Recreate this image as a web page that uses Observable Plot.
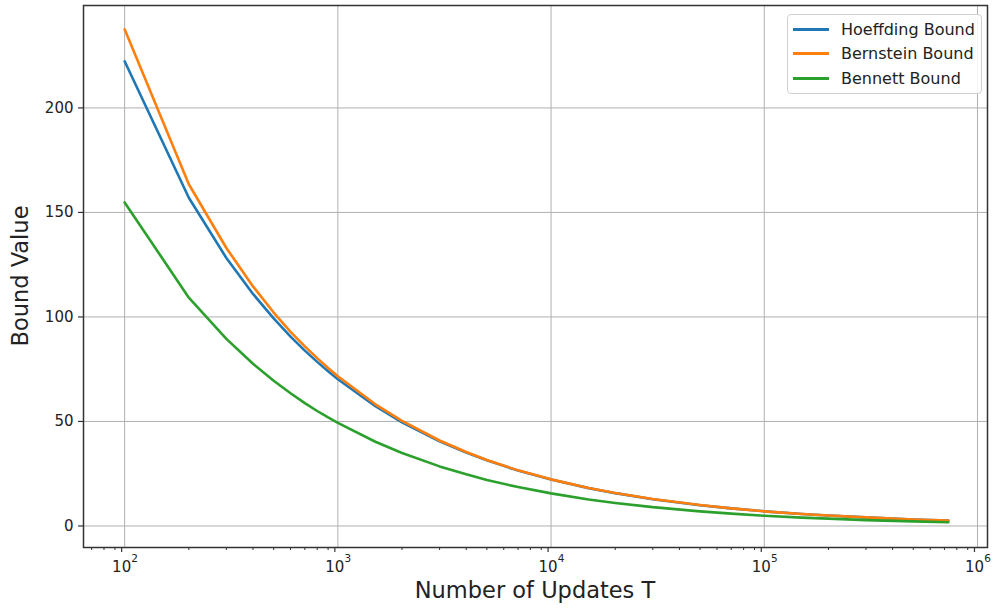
<!DOCTYPE html>
<html>
<head>
<meta charset="utf-8">
<script src="https://cdn.jsdelivr.net/npm/d3@7"></script>
<script src="https://cdn.jsdelivr.net/npm/@observablehq/plot@0.6"></script>
<style>
  html, body { margin: 0; padding: 0; background: #fff; }
  #wrap { position: relative; width: 993px; height: 608px; font-family: "DejaVu Sans", sans-serif; }
  #legend { position: absolute; left: 787px; top: 14px; width: 195px; height: 80px; box-sizing: border-box;
    border: 1px solid #d0d0d0; border-radius: 4px; background: rgba(255,255,255,0.85); }
  .row { position: absolute; left: 5px; height: 22px; display: flex; align-items: center; font-size: 16px; color: #222; white-space: nowrap; }
  .sw { width: 36px; height: 0; border-top: 3px solid; margin-right: 12px; }
</style>
</head>
<body>
<div id="wrap"></div>
<script>
const T =          [100, 200, 300, 400, 500, 600, 700, 800, 900, 1000, 1500, 2000, 3000, 4000, 5000, 7000, 10000, 15000, 20000, 30000, 50000, 70000, 100000, 150000, 200000, 300000, 500000, 730000];
const hoeffding =  [222.3, 157.0, 128.2, 111.0, 99.3, 90.6, 83.9, 78.5, 74.0, 70.2, 57.3, 49.6, 40.5, 35.1, 31.4, 26.5, 22.2, 18.1, 15.7, 12.8, 9.9, 8.4, 7.0, 5.7, 5.0, 4.1, 3.1, 2.6];
const bernstein =  [237.6, 163.5, 133.0, 114.6, 102.1, 92.9, 85.9, 80.3, 75.6, 71.6, 58.2, 50.3, 40.9, 35.4, 31.6, 26.6, 22.3, 18.2, 15.8, 12.9, 10.0, 8.4, 7.0, 5.7, 5.0, 4.1, 3.1, 2.6];
const bennett =    [154.8, 109.2, 89.5, 77.6, 69.5, 63.5, 58.8, 55.0, 51.9, 49.3, 40.3, 34.9, 28.5, 24.7, 22.0, 18.6, 15.6, 12.7, 11.0, 9.0, 7.0, 5.9, 4.9, 4.0, 3.5, 2.8, 2.2, 1.8];
const seriesNames = ["Hoeffding Bound", "Bernstein Bound", "Bennett Bound"];
const seriesColors = ["#1f77b4", "#ff7f0e", "#2ca02c"];
const yTicks = [0, 50, 100, 150, 200];
const xMajor = [100, 1000, 10000, 100000, 1000000];
const xExponent = ["2", "3", "4", "5", "6"];
const xMinor = [70, 80, 90, 200, 300, 400, 500, 600, 700, 800, 900, 2000, 3000, 4000, 5000, 6000, 7000, 8000, 9000,
  20000, 30000, 40000, 50000, 60000, 70000, 80000, 90000, 200000, 300000, 400000, 500000, 600000, 700000, 800000, 900000];
const xLabel = "Number of Updates T";
const yLabel = "Bound Value";

const table = [];
[hoeffding, bernstein, bennett].forEach((vals, i) => {
  T.forEach((t, j) => table.push({T: t, v: vals[j], series: seriesNames[i]}));
});

const chart = Plot.plot({
  width: 993, height: 608,
  marginLeft: 83, marginRight: 6, marginTop: 5, marginBottom: 61,
  style: {fontFamily: "DejaVu Sans, sans-serif", color: "#222", background: "white"},
  x: {type: "log", domain: [Math.pow(10, 1.807), Math.pow(10, 6.047)]},
  y: {domain: [-10.3, 249]},
  color: {domain: seriesNames, range: seriesColors},
  marks: [
    Plot.gridX(xMajor, {stroke: "#b0b0b0", strokeOpacity: 1, strokeWidth: 1}),
    Plot.gridY(yTicks, {stroke: "#b0b0b0", strokeOpacity: 1, strokeWidth: 1}),
    Plot.line(table, {x: "T", y: "v", z: "series", stroke: "series", strokeWidth: 2.6, strokeLinejoin: "round"}),
    Plot.axisX(xMinor, {tickSize: 3, tickFormat: () => "", label: null, stroke: "#333", strokeWidth: 1}),
    Plot.axisX(xMajor, {tickSize: 5, tickPadding: 9, tickFormat: () => "10", dx: -3, fontSize: 15, label: null, stroke: "#333", strokeWidth: 1.2}),
    Plot.text(xMajor, {x: d => d, text: (d, i) => xExponent[i], frameAnchor: "bottom", dx: 10, dy: 14, fontSize: 10.5, fill: "#222"}),
    Plot.axisY(yTicks, {tickSize: 5, tickPadding: 5, fontSize: 15, label: null, stroke: "#333", strokeWidth: 1.2}),
    Plot.frame({stroke: "#333", strokeWidth: 1.5})
  ]
});

const svg = d3.select(chart);
svg.append("text")
  .attr("x", 535).attr("y", 598)
  .attr("text-anchor", "middle")
  .attr("font-size", 22.5).attr("fill", "#222")
  .text(xLabel);
svg.append("text")
  .attr("transform", "translate(28,276) rotate(-90)")
  .attr("text-anchor", "middle")
  .attr("font-size", 22.5).attr("fill", "#222")
  .text(yLabel);

const wrap = document.getElementById("wrap");
wrap.appendChild(chart);
const legend = document.createElement("div");
legend.id = "legend";
seriesNames.forEach((name, i) => {
  const row = document.createElement("div");
  row.className = "row";
  row.style.top = (3 + i * 24.5) + "px";
  const sw = document.createElement("span");
  sw.className = "sw";
  sw.style.borderTopColor = seriesColors[i];
  row.appendChild(sw);
  row.appendChild(document.createTextNode(name));
  legend.appendChild(row);
});
wrap.appendChild(legend);
</script>
</body>
</html>
